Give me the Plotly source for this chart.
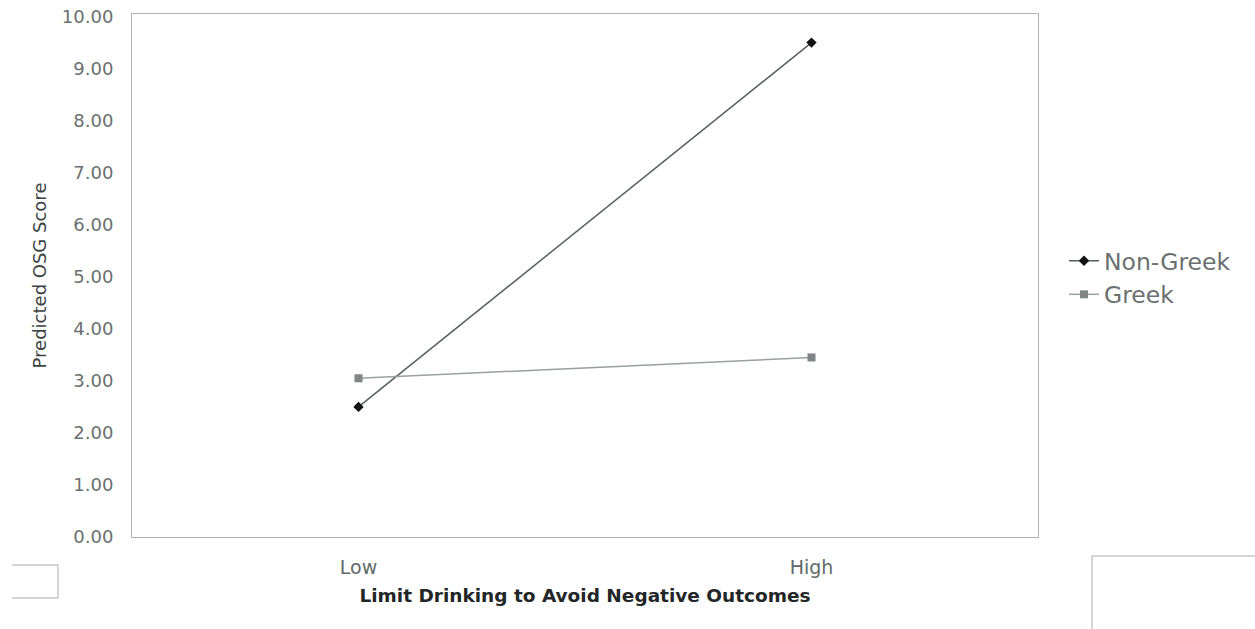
import plotly.graph_objects as go

categories = ["Low", "High"]
non_greek = [2.50, 9.50]
greek = [3.05, 3.45]
y_ticks = [0, 1, 2, 3, 4, 5, 6, 7, 8, 9, 10]
y_tick_labels = ["0.00", "1.00", "2.00", "3.00", "4.00", "5.00", "6.00", "7.00", "8.00", "9.00", "10.00"]

L, T, PW, PH = 132, 14, 906, 523
W, H = 1255, 629
FONT = "DejaVu Sans, Arial, sans-serif"

fig = go.Figure()
fig.add_trace(go.Scatter(
    x=categories, y=non_greek, name="Non-Greek", mode="lines+markers",
    line=dict(color="#5a5f5f", width=1.5),
    marker=dict(symbol="diamond", size=8, color="#111111"),
))
fig.add_trace(go.Scatter(
    x=categories, y=greek, name="Greek", mode="lines+markers",
    line=dict(color="#9a9f9f", width=1.5),
    marker=dict(symbol="square", size=8, color="#808585"),
))

def px_x(x):
    return (x - L) / PW

def px_y(y):
    return (T + PH - y) / PH

fig.update_layout(
    width=W, height=H,
    paper_bgcolor="white", plot_bgcolor="white",
    margin=dict(l=L, r=W - L - PW, t=T, b=H - T - PH, autoexpand=False),
    font=dict(family=FONT, size=16, color="#6a7070"),
    showlegend=True,
    legend=dict(x=px_x(1064), y=px_y(278), xanchor="left", yanchor="middle",
                font=dict(family=FONT, size=23.5, color="#6a7070"), bgcolor="rgba(0,0,0,0)",
                tracegroupgap=0, itemwidth=30),
    xaxis=dict(
        type="category", range=[-0.5, 1.5], automargin=False,
        showline=True, linecolor="#b0b4b4", linewidth=1, mirror=True,
        showgrid=False, ticks="", ticklabelstandoff=13,
        tickfont=dict(family=FONT, size=19, color="#5f6a6a"),
        title=dict(text="<b>Limit Drinking to Avoid Negative Outcomes</b>",
                   font=dict(family=FONT, size=18.5, color="#222626"), standoff=12),
    ),
    yaxis=dict(
        range=[0, 10.05], tickvals=y_ticks, ticktext=y_tick_labels, automargin=False,
        ticklabeloverflow="allow",
        showline=True, linecolor="#b0b4b4", linewidth=1, mirror=True,
        showgrid=False, zeroline=False, ticks="", ticklabelstandoff=14,
        tickfont=dict(family=FONT, size=18, color="#6a7070"),
        title=dict(text="Predicted OSG Score", font=dict(family=FONT, size=18, color="#3a4242"), standoff=10),
    ),
    shapes=[
        dict(type="path", xref="paper", yref="paper",
             path=(f"M {px_x(12)},{px_y(565)} L {px_x(58)},{px_y(565)} "
                   f"L {px_x(58)},{px_y(598)} L {px_x(12)},{px_y(598)}"),
             line=dict(color="#c8c8c8", width=1.5)),
        dict(type="rect", xref="paper", yref="paper",
             x0=px_x(1092), x1=px_x(1270), y0=px_y(645), y1=px_y(556),
             line=dict(color="#c8c8c8", width=1.5), fillcolor="rgba(0,0,0,0)"),
    ],
)

fig.write_html("out.html", config={"displayModeBar": False},
               post_script="document.body.style.margin='0';document.body.style.overflow='hidden';")
